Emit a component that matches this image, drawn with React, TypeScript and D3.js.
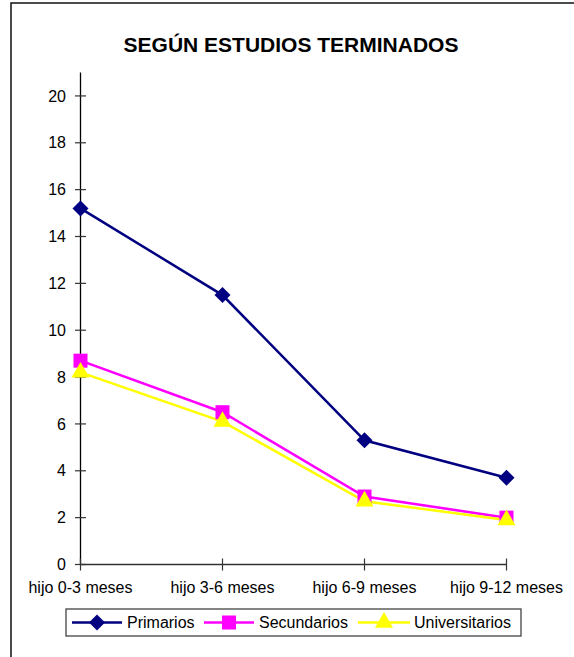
import React from 'react';
import * as d3 from 'd3';

const categories = ['hijo 0-3 meses', 'hijo 3-6 meses', 'hijo 6-9 meses', 'hijo 9-12 meses'];
const primarios = [15.2, 11.5, 5.3, 3.7];
const secundarios = [8.7, 6.5, 2.9, 2.0];
const universitarios = [8.2, 6.1, 2.7, 1.9];
const yTicks = [0, 2, 4, 6, 8, 10, 12, 14, 16, 18, 20];

const series = [
  { name: 'Primarios', values: primarios, color: '#000080', marker: 'diamond' },
  { name: 'Secundarios', values: secundarios, color: '#FF00FF', marker: 'square' },
  { name: 'Universitarios', values: universitarios, color: '#FFFF00', marker: 'triangle' },
];

const W = 574;
const H = 657;
const font = 'Arial, "Liberation Sans", sans-serif';

function Marker({ type, x, y, color }: { type: string; x: number; y: number; color: string }) {
  if (type === 'diamond') {
    const r = 8;
    return <path d={`M${x},${y - r}L${x + r},${y}L${x},${y + r}L${x - r},${y}Z`} fill={color} />;
  }
  if (type === 'square') {
    const s = 14;
    return <rect x={x - s / 2} y={y - s / 2} width={s} height={s} fill={color} />;
  }
  const sym = d3.symbol().type(d3.symbolTriangle).size(140)();
  return <path d={sym || ''} transform={`translate(${x},${y})`} fill={color} />;
}

export default function App() {
  const x = d3.scalePoint<string>().domain(categories).range([80.5, 506.5]);
  const y = d3.scaleLinear().domain([0, 21]).range([564.5, 72.5]);

  const line = d3
    .line<number>()
    .x((_d, i) => x(categories[i])!)
    .y((d) => y(d));

  // legend entry positions: line start/end, text start
  const legendItems = [
    { x0: 72, x1: 122, tx: 127 },
    { x0: 204, x1: 254, tx: 259 },
    { x0: 358, x1: 410, tx: 414 },
  ];

  return (
    <div style={{ position: 'absolute', left: 0, top: 0 }}>
      <svg width={W} height={H} style={{ display: 'block', background: '#fff' }} fontFamily={font}>
        <rect x={11} y={3} width={700} height={800} fill="none" stroke="#111" strokeWidth={1.5} />

        <text x={291} y={52} textAnchor="middle" fontSize={21} fontWeight="bold" fill="#000">
          SEGÚN ESTUDIOS TERMINADOS
        </text>

        {/* y axis */}
        <line x1={80.5} x2={80.5} y1={y(0)} y2={y(21)} stroke="#000" strokeWidth={1.3} />
        {yTicks.map((t) => (
          <g key={t}>
            <line x1={75} x2={86} y1={y(t)} y2={y(t)} stroke="#333" strokeWidth={1.2} />
            <text x={66} y={y(t)} dy="0.35em" textAnchor="end" fontSize={16} fill="#000">
              {t}
            </text>
          </g>
        ))}

        {/* x axis */}
        <line x1={80.5} x2={506.5} y1={y(0)} y2={y(0)} stroke="#333" strokeWidth={1.3} />
        {categories.map((c) => (
          <g key={c}>
            <line x1={x(c)!} x2={x(c)!} y1={y(0) - 6} y2={y(0) + 6} stroke="#333" strokeWidth={1.2} />
            <text x={x(c)!} y={593} textAnchor="middle" fontSize={16} fill="#000">
              {c}
            </text>
          </g>
        ))}

        {/* series */}
        {series.map((s) => (
          <path key={s.name} d={line(s.values) || ''} fill="none" stroke={s.color} strokeWidth={2.5} />
        ))}
        {series.map((s) =>
          s.values.map((v, i) => (
            <Marker key={s.name + i} type={s.marker} x={x(categories[i])!} y={y(v)} color={s.color} />
          ))
        )}

        {/* legend */}
        <rect x={66} y={609} width={455} height={27} fill="#fff" stroke="#444" strokeWidth={1.3} />
        {series.map((s, i) => {
          const it = legendItems[i];
          const cy = 622.5;
          return (
            <g key={s.name}>
              <line x1={it.x0} x2={it.x1} y1={cy} y2={cy} stroke={s.color} strokeWidth={2.5} />
              <Marker type={s.marker} x={(it.x0 + it.x1) / 2} y={cy} color={s.color} />
              <text x={it.tx} y={cy} dy="0.35em" fontSize={16} fill="#000">
                {s.name}
              </text>
            </g>
          );
        })}
      </svg>
    </div>
  );
}
